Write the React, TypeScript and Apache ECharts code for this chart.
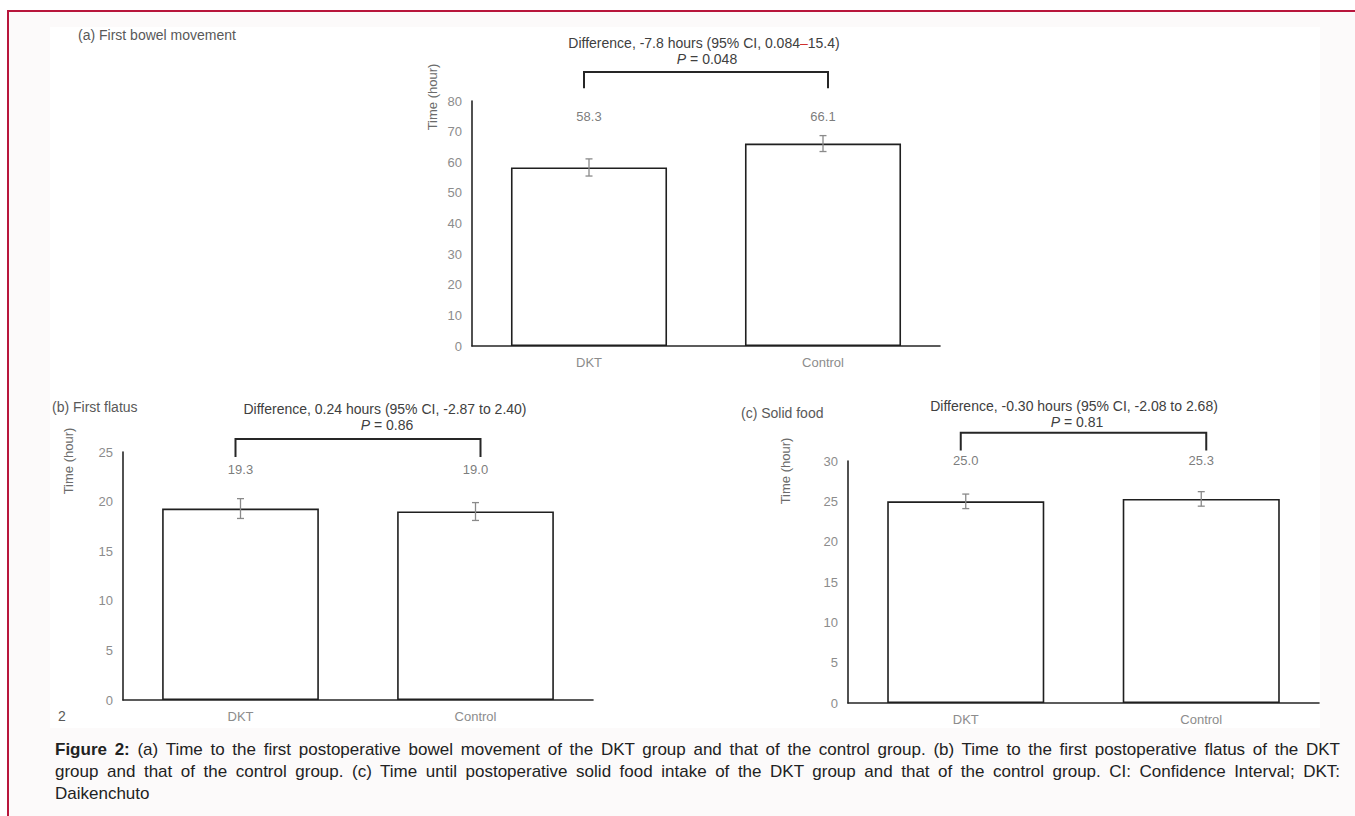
import React, { useEffect, useRef } from 'react';
import * as echarts from 'echarts';

// ---------- data ----------
const categories = ['DKT', 'Control'];

const bowelMeans = [58.3, 66.1];
const bowelErrors = [2.8, 2.6];
const flatusMeans = [19.3, 19.0];
const flatusErrors = [1.0, 0.9];
const foodMeans = [25.0, 25.3];
const foodErrors = [0.9, 0.9];

// axis [min, max, interval]
const bowelAxis = [0, 80, 10];
const flatusAxis = [0, 25, 5];
const foodAxis = [0, 30, 5];

// annotation levels (data units): value-label level, bracket [foot, top]
const bowelLabelLevel = 74.8;
const bowelBracket = [84.2, 89.5];
const flatusLabelLevel = 23.2;
const flatusBracket = [24.5, 26.3];
const foodLabelLevel = 30.1;
const foodBracket = [31.3, 33.5];

const panelTitles = ['(a) First bowel movement', '(b) First flatus', '(c) Solid food'];
const diffTexts = [
  'Difference, -7.8 hours (95% CI, 0.084{r|–}15.4)',
  'Difference, 0.24 hours (95% CI, -2.87 to 2.40)',
  'Difference, -0.30 hours (95% CI, -2.08 to 2.68)',
];
const pValues = ['0.048', '0.86', '0.81'];
const yTitle = 'Time (hour)';

const FONT = '"Liberation Sans", Arial, sans-serif';

function buildOption() {
  const panels = [
    { grid: { left: 472, top: 101, width: 468, height: 245 }, axis: bowelAxis, means: bowelMeans, errs: bowelErrors, level: bowelLabelLevel, bracket: bowelBracket },
    { grid: { left: 123, top: 452, width: 470, height: 248 }, axis: flatusAxis, means: flatusMeans, errs: flatusErrors, level: flatusLabelLevel, bracket: flatusBracket },
    { grid: { left: 848, top: 461, width: 471, height: 242 }, axis: foodAxis, means: foodMeans, errs: foodErrors, level: foodLabelLevel, bracket: foodBracket },
  ];

  const series: any[] = [];
  panels.forEach((p, i) => {
    series.push({
      type: 'bar',
      xAxisIndex: i,
      yAxisIndex: i,
      data: p.means,
      barWidth: '66.7%',
      silent: true,
      z: 2,
      itemStyle: { color: '#ffffff', borderColor: '#1f1f1f', borderWidth: 1.6 },
    });
    series.push({
      type: 'custom',
      xAxisIndex: i,
      yAxisIndex: i,
      silent: true,
      clip: false,
      z: 6,
      encode: { x: 0, y: [1, 2] },
      data: p.means.map((m, j) => [j, m - p.errs[j], m + p.errs[j]]),
      renderItem: (params: any, api: any) => {
        const x = api.value(0);
        const lo = api.coord([x, api.value(1)]);
        const hi = api.coord([x, api.value(2)]);
        const st = { stroke: '#8a8a8a', lineWidth: 1.3 };
        return {
          type: 'group',
          children: [
            { type: 'line', shape: { x1: lo[0], y1: lo[1], x2: hi[0], y2: hi[1] }, style: st },
            { type: 'line', shape: { x1: lo[0] - 3.5, y1: lo[1], x2: lo[0] + 3.5, y2: lo[1] }, style: st },
            { type: 'line', shape: { x1: hi[0] - 3.5, y1: hi[1], x2: hi[0] + 3.5, y2: hi[1] }, style: st },
          ],
        };
      },
    });
    series.push({
      type: 'scatter',
      xAxisIndex: i,
      yAxisIndex: i,
      silent: true,
      clip: false,
      symbolSize: 0,
      data: p.means.map((m, j) => [j, p.level]),
      label: {
        show: true,
        position: 'inside',
        color: '#595959',
        fontSize: 13,
        fontFamily: FONT,
        formatter: (d: any) => p.means[d.dataIndex].toFixed(1),
      },
    });
    series.push({
      type: 'custom',
      xAxisIndex: i,
      yAxisIndex: i,
      silent: true,
      clip: false,
      z: 6,
      encode: { x: [0, 1], y: [2, 3] },
      data: [[0, 1, p.bracket[0], p.bracket[1]]],
      renderItem: (params: any, api: any) => {
        const a0 = api.coord([api.value(0), api.value(2)]);
        const a1 = api.coord([api.value(0), api.value(3)]);
        const b1 = api.coord([api.value(1), api.value(3)]);
        const b0 = api.coord([api.value(1), api.value(2)]);
        const e = 5;
        return {
          type: 'polyline',
          shape: {
            points: [
              [a0[0] - e, a0[1]],
              [a1[0] - e, a1[1]],
              [b1[0] + e, b1[1]],
              [b0[0] + e, b0[1]],
            ],
          },
          style: { stroke: '#262626', lineWidth: 2, fill: null },
        };
      },
    });
  });

  const txt = (x: number, y: number, text: string, opts: any = {}) => ({
    type: 'text',
    x,
    y,
    silent: true,
    rotation: opts.rotation || 0,
    style: {
      text,
      fill: opts.fill || '#595959',
      fontSize: opts.fontSize || 14,
      fontFamily: FONT,
      align: opts.align || 'center',
      verticalAlign: 'middle',
      rich: opts.rich,
    },
  });

  const titlePos = [[78, 35], [52, 407], [741, 413]];
  const yTitlePos = [[432, 97], [68, 461], [785, 471]];
  const diffPos = [[704, 43], [385, 409], [1074, 406]];
  const pPos = [[707, 59], [387, 425], [1077, 422]];

  const richBase = {
    r: { fill: '#d0312d', color: '#d0312d', fontSize: 14, fontFamily: FONT },
    i: { fill: '#404040', color: '#404040', fontSize: 14, fontStyle: 'italic', fontFamily: FONT },
  };

  const graphics: any[] = [];
  panelTitles.forEach((t, i) => graphics.push(txt(titlePos[i][0], titlePos[i][1], t, { align: 'left', fontSize: 14, fill: '#595959' })));
  yTitlePos.forEach((p) => graphics.push(txt(p[0], p[1], yTitle, { rotation: Math.PI / 2, fontSize: 13, fill: '#6b6b6b' })));
  diffTexts.forEach((t, i) => graphics.push(txt(diffPos[i][0], diffPos[i][1], t, { fontSize: 14, fill: '#404040', rich: richBase })));
  pValues.forEach((v, i) => graphics.push(txt(pPos[i][0], pPos[i][1], '{i|P} = ' + v, { fontSize: 14, fill: '#404040', rich: richBase })));
  graphics.push(txt(62, 716, '2', { fontSize: 14, fill: '#595959' }));

  return {
    animation: false,
    backgroundColor: 'transparent',
    grid: panels.map((p) => ({ ...p.grid })),
    xAxis: panels.map((p, i) => ({
      type: 'category',
      gridIndex: i,
      data: categories,
      axisLine: { lineStyle: { color: '#262626', width: 1.6 } },
      axisTick: { show: false },
      axisLabel: { color: '#8c8c8c', fontSize: 13, margin: 10, fontFamily: FONT },
    })),
    yAxis: panels.map((p, i) => ({
      type: 'value',
      gridIndex: i,
      min: p.axis[0],
      max: p.axis[1],
      interval: p.axis[2],
      axisLine: { show: true, lineStyle: { color: '#262626', width: 1.6 } },
      axisTick: { show: false },
      splitLine: { show: false },
      axisLabel: { color: '#8c8c8c', fontSize: 13, margin: 10, fontFamily: FONT },
    })),
    series,
    graphic: graphics,
  };
}

export default function App() {
  const ref = useRef<HTMLDivElement>(null);
  useEffect(() => {
    if (!ref.current) return;
    const chart = echarts.init(ref.current, undefined, { renderer: 'svg' });
    chart.setOption(buildOption() as any);
    return () => chart.dispose();
  }, []);

  const just: React.CSSProperties = { textAlign: 'justify', textAlignLast: 'justify' as any };
  return (
    <div style={{ position: 'absolute', left: 0, top: 0, width: 1355, height: 816, background: '#ffffff', overflow: 'hidden' }}>
      <div style={{ position: 'absolute', left: 7, top: 10, width: 1400, height: 900, borderTop: '2px solid #b8163c', borderLeft: '2px solid #b8163c', background: '#fcfafa' }} />
      <div style={{ position: 'absolute', left: 50, top: 27, width: 1270, height: 701, background: '#ffffff' }} />
      <div ref={ref} style={{ position: 'absolute', left: 0, top: 0, width: 1355, height: 735 }} />
      <div style={{ position: 'absolute', left: 55, top: 739, width: 1285, fontFamily: FONT, fontSize: 17, lineHeight: '22px', color: '#222222' }}>
        <div style={just}>
          <b>Figure 2:</b> (a) Time to the first postoperative bowel movement of the DKT group and that of the control group. (b) Time to the first postoperative flatus of the DKT
        </div>
        <div style={just}>
          group and that of the control group. (c) Time until postoperative solid food intake of the DKT group and that of the control group. CI: Confidence Interval; DKT:
        </div>
        <div>Daikenchuto</div>
      </div>
    </div>
  );
}
